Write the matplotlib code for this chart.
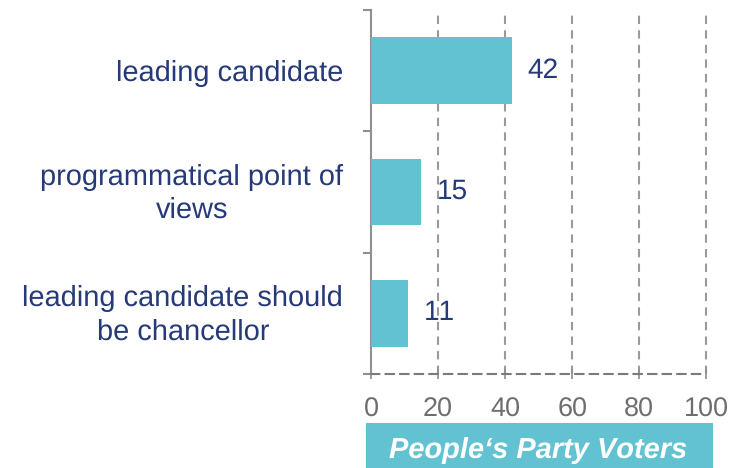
import matplotlib
matplotlib.use('Agg')
from matplotlib import pyplot as plt
from matplotlib.patches import Rectangle
from matplotlib.transforms import ScaledTranslation

plt.rcParams['font.family'] = ['Liberation Sans', 'DejaVu Sans']
plt.rcParams['text.hinting'] = 'no_hinting'
plt.rcParams['text.hinting_factor'] = 1
plt.rcParams['text.kerning_factor'] = 6

categories = ['leading candidate',
              'programmatical point of\nviews',
              'leading candidate should\nbe chancellor']
values = [42, 15, 11]
xticks = [0, 20, 40, 60, 80, 100]
group_label = 'People\u2018s Party Voters'

bar_color = '#62C2D2'
text_color = '#263a7a'
grey = '#8f8f8f'

fig = plt.figure(figsize=(7.29, 4.68), dpi=100)
ax = fig.add_axes([0.509, 0.201, 0.460, 0.778])

pos = list(range(len(categories)))
ax.barh(pos, values, height=0.55, color=bar_color, zorder=3)

for p, v in zip(pos, values):
    ax.text(v + 4.7, p, str(v), va='center', ha='left', fontsize=20.5, color=text_color)

ax.set_xlim(0, 100)
ax.set_ylim(2.5, -0.5)

# boundaries as major ticks, category names as minor ticks
ax.set_yticks([-0.5, 0.5, 1.5, 2.5])
ax.set_yticklabels([])
ax.set_yticks(pos, minor=True)
ax.set_yticklabels(categories, minor=True, fontsize=21, color=text_color,
                   multialignment='center', linespacing=1.3)
ax.tick_params(axis='y', which='major', length=6, width=1.5, color=grey, direction='out')
ax.tick_params(axis='y', which='minor', length=0, pad=20)

# two-line labels sit a bit low, lift them
for lab in ax.get_yticklabels(minor=True):
    if '\n' in lab.get_text():
        lab.set_transform(lab.get_transform() + ScaledTranslation(0, 0.04, fig.dpi_scale_trans))

ax.set_xticks(xticks)
ax.tick_params(axis='x', length=7, width=1.2, color=grey, direction='inout',
               labelsize=19.5, labelcolor='#6e6e6e', pad=13)

for x in xticks[1:]:
    ax.axvline(x, color='#9a9a9a', linestyle=(0, (4, 3)), linewidth=1.5, zorder=1,
               clip_on=False)

ax.spines['top'].set_visible(False)
ax.spines['right'].set_visible(False)
ax.spines['left'].set_color(grey)
ax.spines['left'].set_linewidth(1.5)
ax.spines['bottom'].set_color('#7a7a7a')
ax.spines['bottom'].set_linewidth(1.5)
ax.spines['bottom'].set_linestyle((0, (4, 3)))

# label box under the axis
fig.patches.append(Rectangle((0.502, 0.0), 0.476, 0.096, transform=fig.transFigure,
                             facecolor=bar_color, edgecolor='none'))
fig.text(0.738, 0.022, group_label, ha='center', va='baseline', fontsize=21,
         fontweight='bold', fontstyle='italic', color='white')

fig.savefig('out.png', dpi=100)
